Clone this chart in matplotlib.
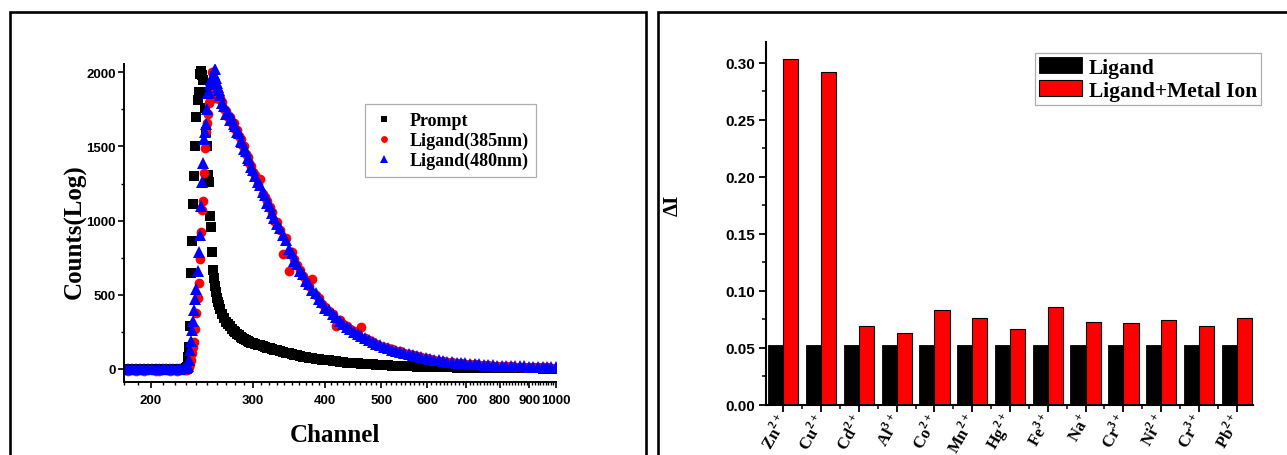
import matplotlib
matplotlib.use('Agg')
import matplotlib.pyplot as plt
from matplotlib.ticker import FixedLocator, NullFormatter, MultipleLocator, FormatStrFormatter, FuncFormatter
from matplotlib.patches import Rectangle
import numpy as np

# ---- decay data (left panel) ----
channel = [180, 183, 186, 189, 192, 195, 198, 201, 204, 207, 210, 213, 216, 219, 222, 225, 228, 230, 231,
           232, 233, 234, 235, 236, 237, 238, 239, 240, 241, 242, 243, 244, 245, 246, 247, 248, 249, 250,
           251, 252, 253, 254, 255, 256, 257, 258, 259, 260, 261, 262,
           264, 266, 268, 270, 272, 274, 276, 278, 280, 282, 284, 286, 288, 290, 292, 294, 296, 298, 300,
           303, 306, 309, 312, 315, 318, 321, 324, 327, 330, 334, 338, 342, 346, 350, 354, 358, 362, 366, 370,
           375, 380, 385, 390, 395, 400,
           406, 412, 418, 424, 430, 436, 442, 448, 455, 462, 469, 476, 483, 490, 498, 506, 514, 522, 530, 539,
           548, 557, 566, 576, 586, 596, 606, 617, 628, 639, 650, 662, 674, 686, 698, 711, 724, 737, 750, 764,
           778, 792, 806, 821, 836, 851, 866, 882, 898, 914, 931, 948, 965, 982, 1000]

prompt = [0, 1, 0, 2, 0, 1, 0, 0, 2, 1, 0, 1, 0, 2, 0, 1, 3, 5, 10,
          80, 150, 290, 650, 860, 1110, 1300, 1500, 1700, 1810, 1870, 1990, 2010, 1980, 1950, 1870, 1760, 1600, 1500,
          1310, 1260, 1030, 960, 790, 670, 610, 560, 520, 480, 450, 430,
          405, 372, 345, 318, 300, 288, 270, 258, 246, 236, 226, 214, 210, 200, 194, 190, 183, 178, 175,
          170, 163, 160, 152, 149, 142, 138, 133, 127, 125, 119, 116, 109, 106, 100, 97, 91, 89, 83, 80,
          77, 71, 69, 64, 62, 59,
          57, 53, 51, 47, 46, 43, 42, 39, 38, 35, 34, 31, 30, 28, 27, 25, 24, 22, 21, 20,
          19, 17, 17, 16, 15, 14, 13, 12, 12, 11, 10, 10, 9, 9, 8, 8, 7, 7, 7, 6,
          6, 6, 5, 5, 5, 5, 4, 4, 4, 4, 4, 3, 3, 3, 3]

ligand_385 = [-10, -12, -9, -11, -10, -12, -10, -9, -11, -12, -10, -9, -11, -10, -12, -10, -8, -6, -4,
              0, 10, 30, 60, 110, 150, 180, 270, 380, 480, 580, 740, 920, 1070, 1130, 1320, 1490, 1600, 1660,
              1720, 1790, 1810, 1900, 2000, 1950, 1880, 1850, 1830, 1860, 1840, 1820,
              1830, 1800, 1750, 1740, 1700, 1700, 1660, 1660, 1620, 1610, 1570, 1550, 1510, 1500, 1450, 1430, 1390, 1370, 1330,
              1310, 1250, 1280, 1180, 1160, 1130, 1090, 1060, 1000, 990, 940, 774, 880, 662, 790, 740, 700, 670, 630, 600,
              560, 606, 500, 480, 440, 420,
              390, 372, 292, 330, 300, 288, 270, 255, 238, 281, 208, 192, 184, 168, 158, 150, 138, 133, 122, 118,
              107, 100, 93, 86, 79, 72, 66, 61, 56, 51, 47, 44, 41, 38, 35, 33, 31, 28, 27, 24,
              23, 21, 20, 19, 17, 16, 15, 14, 13, 12, 11, 10, 10, 9, 9]

ligand_480 = [3, 0, 2, 1, 0, 2, 1, 0, 3, 1, 0, 2, 1, 0, 2, 1, 4, 6, 10,
              20, 60, 130, 190, 260, 320, 400, 470, 540, 660, 790, 900, 1100, 1260, 1390, 1550, 1600, 1650, 1750,
              1860, 1870, 1920, 1950, 1940, 1980, 1990, 2020, 1960, 1930, 1900, 1880,
              1850, 1790, 1770, 1720, 1730, 1680, 1690, 1650, 1640, 1600, 1590, 1540, 1530, 1480, 1470, 1420, 1410, 1360, 1340,
              1300, 1260, 1240, 1190, 1170, 1120, 1100, 1050, 1020, 980, 950, 900, 870, 810, 780, 730, 710, 660, 640, 590,
              570, 530, 510, 470, 450, 410,
              395, 368, 350, 322, 300, 285, 268, 252, 235, 220, 206, 195, 182, 170, 160, 149, 140, 131, 124, 116,
              109, 101, 95, 87, 80, 73, 68, 62, 57, 53, 49, 46, 42, 40, 37, 35, 33, 30, 29, 26,
              25, 23, 22, 21, 19, 18, 17, 17, 15, 15, 13, 13, 12, 12, 11]

channel_ticks = [200, 300, 400, 500, 600, 700, 800, 900, 1000]

# ---- selectivity data (right panel) ----
ions = [r'$\mathbf{Zn}^{\mathbf{2+}}$', r'$\mathbf{Cu}^{\mathbf{2+}}$', r'$\mathbf{Cd}^{\mathbf{2+}}$',
        r'$\mathbf{Al}^{\mathbf{3+}}$', r'$\mathbf{Co}^{\mathbf{2+}}$', r'$\mathbf{Mn}^{\mathbf{2+}}$',
        r'$\mathbf{Hg}^{\mathbf{2+}}$', r'$\mathbf{Fe}^{\mathbf{3+}}$', r'$\mathbf{Na}^{\mathbf{+}}$',
        r'$\mathbf{Cr}^{\mathbf{3+}}$', r'$\mathbf{Ni}^{\mathbf{2+}}$', r'$\mathbf{Cr}^{\mathbf{3+}}$',
        r'$\mathbf{Pb}^{\mathbf{2+}}$']
ligand_only = [0.052, 0.052, 0.052, 0.052, 0.052, 0.052, 0.052, 0.052, 0.052, 0.052, 0.052, 0.052, 0.052]
ligand_metal = [0.303, 0.292, 0.069, 0.063, 0.083, 0.076, 0.066, 0.086, 0.073, 0.072, 0.074, 0.069, 0.076]

plt.rcParams['font.family'] = ['Liberation Sans', 'DejaVu Sans']
plt.rcParams['font.weight'] = 'bold'
plt.rcParams['mathtext.fontset'] = 'custom'
plt.rcParams['mathtext.rm'] = 'Liberation Serif'
plt.rcParams['mathtext.bf'] = 'Liberation Serif:bold'

serif = 'Liberation Serif'
W, H = 1287, 456

fig = plt.figure(figsize=(W / 100, H / 100), dpi=100)

# panel frames
fig.add_artist(Rectangle((10 / W, -0.1), (646 - 10) / W, 1.1 - 13 / H, transform=fig.transFigure,
                         fill=False, lw=1.9, ec='black'))
fig.add_artist(Rectangle((658 / W, -0.1), 0.5, 1.1 - 13 / H, transform=fig.transFigure,
                         fill=False, lw=1.9, ec='black'))

# ---------------- left panel ----------------
ax1 = fig.add_axes([124 / W, 1 - 383 / H, (556 - 124) / W, (383 - 65) / H])
ax1.set_xscale('log')
ax1.plot(channel, prompt, 's', color='black', ms=6.5, mew=0, label='Prompt')
ax1.plot(channel, ligand_385, 'o', color='red', ms=7.0, mew=0, label='Ligand(385nm)')
ax1.plot(channel, ligand_480, '^', color='blue', ms=8.0, mew=0, label='Ligand(480nm)')
ax1.set_xlim(180, 1000)
ax1.set_ylim(-88, 2056)
for s in ['top', 'right']:
    ax1.spines[s].set_visible(False)
for s in ['left', 'bottom']:
    ax1.spines[s].set_linewidth(1.4)
ax1.xaxis.set_major_locator(FixedLocator(channel_ticks))
ax1.xaxis.set_major_formatter(FuncFormatter(lambda v, p: '%d' % v))
ax1.xaxis.set_minor_locator(FixedLocator([c for c in range(180, 1001, 10) if c not in channel_ticks]))
ax1.xaxis.set_minor_formatter(NullFormatter())
ax1.yaxis.set_major_locator(MultipleLocator(500))
ax1.yaxis.set_minor_locator(MultipleLocator(250))
ax1.tick_params(which='major', direction='out', length=4, width=1.2, labelsize=9.5, pad=2)
ax1.tick_params(which='minor', direction='out', length=2.5, width=1.0)
ax1.tick_params(axis='x', which='major', pad=5)
for lab in ax1.get_xticklabels() + ax1.get_yticklabels():
    lab.set_fontweight('bold')

fig.text(335 / W, 1 - 436 / H, 'Channel', family=serif, weight='bold', fontsize=18, ha='center', va='center')
fig.text(75 / W, 1 - 232 / H, 'Counts(Log)', family=serif, weight='bold', fontsize=18,
         ha='center', va='center', rotation=90)

leg1 = ax1.legend(loc='upper left', bbox_to_anchor=(365 / W, 1 - 105 / H), bbox_transform=fig.transFigure,
                  borderaxespad=0, frameon=True, fancybox=False, edgecolor='#999999',
                  prop={'family': serif, 'weight': 'bold', 'size': 13}, handlelength=1.2,
                  handletextpad=0.8, labelspacing=0.15, borderpad=0.45, markerscale=0.7)
leg1.get_frame().set_linewidth(0.9)

# ---------------- right panel ----------------
ax2 = fig.add_axes([766 / W, 1 - 405.7 / H, (1253 - 766) / W, (405.7 - 43.3) / H])
x = np.arange(len(ions))
ax2.bar(x - 0.2, ligand_only, width=0.4, color='black', edgecolor='black', lw=0.6, label='Ligand')
ax2.bar(x + 0.2, ligand_metal, width=0.4, color='red', edgecolor='black', lw=0.8, label='Ligand+Metal Ion')
ax2.set_xlim(-0.458, 12.43)
ax2.set_ylim(0, 0.318)
for s in ['top', 'right']:
    ax2.spines[s].set_visible(False)
for s in ['left', 'bottom']:
    ax2.spines[s].set_linewidth(1.5)
ax2.yaxis.set_major_locator(MultipleLocator(0.05))
ax2.yaxis.set_minor_locator(MultipleLocator(0.025))
ax2.yaxis.set_major_formatter(FormatStrFormatter('%.2f'))
ax2.set_xticks(x)
ax2.set_xticklabels(ions, rotation=60, ha='right', rotation_mode='anchor', va='center', fontsize=12)
ax2.xaxis.set_minor_locator(FixedLocator(np.arange(0.5, 12, 1)))
ax2.tick_params(which='major', direction='out', length=5, width=1.3, labelsize=11, pad=3)
ax2.tick_params(which='minor', direction='out', length=3, width=1.1)
ax2.tick_params(axis='x', which='major', labelsize=12, pad=2)
for lab in ax2.get_yticklabels():
    lab.set_fontweight('bold')

fig.text(673 / W, 1 - 205 / H, 'ΔI', family=serif, weight='bold', fontsize=15,
         ha='center', va='center', rotation=90)

leg2 = ax2.legend(loc='upper left', bbox_to_anchor=(1035 / W, 1 - 54 / H), bbox_transform=fig.transFigure,
                  borderaxespad=0, frameon=True, fancybox=False, edgecolor='#999999',
                  prop={'family': serif, 'weight': 'bold', 'size': 15.5}, handlelength=2.0, handleheight=0.75,
                  handletextpad=0.3, labelspacing=0.12, borderpad=0.2)
leg2.get_frame().set_linewidth(0.9)

fig.savefig('out.png', dpi=100)
